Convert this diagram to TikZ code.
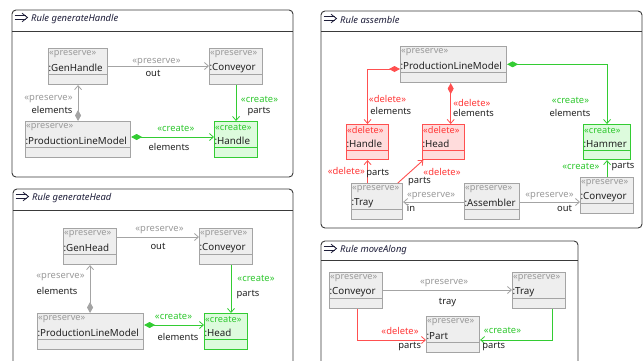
\documentclass[tikz,border=0pt]{standalone}
\usepackage{fontspec}
\setmainfont{Noto Sans}
\usetikzlibrary{arrows.meta,calc}
\definecolor{presline}{HTML}{A4A4A4}
\definecolor{presfill}{HTML}{EEEEEE}
\definecolor{presfg}{HTML}{9A9A9A}
\definecolor{delline}{HTML}{FF5050}
\definecolor{delfill}{HTML}{FFDCDC}
\definecolor{delfg}{HTML}{FF3838}
\definecolor{creline}{HTML}{33CC33}
\definecolor{crefill}{HTML}{DDFBDD}
\definecolor{crefg}{HTML}{30C830}
\definecolor{txt}{HTML}{222222}
\definecolor{titlefg}{HTML}{1E1E3A}
\definecolor{framec}{HTML}{3A3A3A}
\tikzset{
  preservebox/.style={draw=presline, fill=presfill, line width=1.1pt, inner sep=0pt},
  deletebox/.style={draw=delline, fill=delfill, line width=1.1pt, inner sep=0pt},
  createbox/.style={draw=creline, fill=crefill, line width=1.1pt, inner sep=0pt},
  preservester/.style={text=presfg, inner sep=0pt, font=\fontsize{9.2}{10}\selectfont},
  deletester/.style={text=delfg, inner sep=0pt, font=\fontsize{9.2}{10}\selectfont},
  createster/.style={text=crefg, inner sep=0pt, font=\fontsize{9.2}{10}\selectfont},
  preservediv/.style={draw=presline, line width=0.9pt},
  deletediv/.style={draw=delline, line width=0.9pt},
  creatediv/.style={draw=creline, line width=0.9pt},
  objname/.style={text=txt, inner sep=0pt, font=\fontsize{9.8}{11}\selectfont},
  lab/.style={inner sep=0pt, font=\fontsize{9.4}{10}\selectfont},
  role/.style={lab, text=txt},
  plab/.style={lab, text=presfg},
  dlab/.style={lab, text=delfg},
  clab/.style={lab, text=crefg},
  edgebase/.style={line width=0.9pt, -{Straight Barb[length=4pt,width=7pt,line width=0.8pt]}},
  pedge/.style={edgebase, draw=presline},
  dedge/.style={edgebase, draw=delline},
  cedge/.style={edgebase, draw=creline},
  comp/.style={{Diamond[length=11pt,width=6pt]}-{Straight Barb[length=4pt,width=7pt,line width=0.8pt]}},
  rulebox/.style={draw=framec, line width=0.9pt, rounded corners=4pt, fill=white},
  ruletitle/.style={inner sep=0pt, text=titlefg, font=\fontsize{9.4}{10}\selectfont\itshape},
}
\newcommand\umlobj[7]{%
  \node[#2box, minimum width=#5pt, minimum height=#6pt, anchor=north west] (#1) at (#3,#4) {};
  \node[#2ster, anchor=west] (#1-st) at ([xshift=1pt,yshift=-6.5pt]#1.north west) {«#2»};
  \node[objname, anchor=west] (#1-nm) at ([xshift=0.3pt,yshift=-20pt]#1.north west) {:#7};
  \draw[#2div] ([yshift=-26.5pt]#1.north west) -- ([yshift=-26.5pt]#1.north east);
}
\newcommand\rulepanel[7]{%
  \draw[rulebox] (#2,#3) rectangle (#4,#5);
  \draw[framec, line width=0.9pt] (#2,#6) -- (#4,#6);
  \draw[titlefg, line width=0.8pt] ($(#2,#3)+(2.5,5.5)$) -- ++(11,0);
  \draw[titlefg, line width=0.8pt] ($(#2,#3)+(2.5,9.5)$) -- ++(11,0);
  \draw[titlefg, line width=0.8pt, line join=miter] ($(#2,#3)+(10,3.2)$) -- ($(#2,#3)+(15.5,7.5)$) -- ($(#2,#3)+(10,11.8)$);
  \node[ruletitle, anchor=west] (#1) at ($(#2,#3)+(19,9)$) {#7};
}
\begin{document}
\begin{tikzpicture}[x=1pt,y=-1pt]
\useasboundingbox (0,0) rectangle (644,360);
\fill[white] (0,0) rectangle (644,360);
\clip (0,0) rectangle (644,360);

% ---------------- Panel 1: generateHandle
\rulepanel{t1}{12}{10}{293}{177}{31}{Rule generateHandle}
\umlobj{gh1}{preserve}{48}{48}{59}{36}{GenHandle}
\umlobj{cv1}{preserve}{209}{48}{53}{36}{Conveyor}
\umlobj{plm1}{preserve}{25}{121}{105}{36}{ProductionLineModel}
\umlobj{ha1}{create}{214}{121}{43}{36}{Handle}
\draw[pedge] ([yshift=-18pt]gh1.north east) -- ([yshift=-18pt]cv1.north west);
\draw[pedge, comp] (plm1.north) -- (plm1.north |- gh1.south);
\draw[cedge] (cv1.south) -- (cv1.south |- ha1.north);
\draw[cedge, comp] ([yshift=-16pt]plm1.north east) -- ([yshift=-16pt]ha1.north west);
\node[plab] (e1a) at (156.5,61.7) {«preserve»};
\node[role] (e1b) at (153,73) {out};
\node[plab] (e1c) at (48.5,99) {«preserve»};
\node[role] (e1d) at (52,110.3) {elements};
\node[clab] (e1e) at (259.5,99.7) {«create»};
\node[role] (e1f) at (259,112) {parts};
\node[clab] (e1g) at (175.8,128) {«create»};
\node[role] (e1h) at (169,146.7) {elements};

% ---------------- Panel 2: generateHead
\rulepanel{t2}{13}{189}{293}{372}{210}{Rule generateHead}
\umlobj{gh2}{preserve}{63}{228}{53}{36}{GenHead}
\umlobj{cv2}{preserve}{199}{228}{53}{36}{Conveyor}
\umlobj{plm2}{preserve}{37}{313}{106}{36}{ProductionLineModel}
\umlobj{hd2}{create}{204}{313}{43}{36}{Head}
\draw[pedge] ([yshift=-9pt]gh2.north east) -- ([yshift=-9pt]cv2.north west);
\draw[pedge, comp] ([xshift=-0.5pt]plm2.north) -- ([xshift=-0.5pt]plm2.north |- gh2.south);
\draw[cedge] ([xshift=32pt]cv2.south west) -- ([xshift=32pt]cv2.south west |- hd2.north);
\draw[cedge, comp] ([yshift=-12pt]plm2.north east) -- ([yshift=-12pt]hd2.north west);
\node[plab] (e2a) at (159.5,230) {«preserve»};
\node[role] (e2b) at (158,246.3) {out};
\node[plab] (e2c) at (60.5,277.3) {«preserve»};
\node[role] (e2d) at (57,290.7) {elements};
\node[clab] (e2e) at (256,278.3) {«create»};
\node[role] (e2f) at (248,294.3) {parts};
\node[clab] (e2g) at (173.5,316.7) {«create»};
\node[role] (e2h) at (178,336.7) {elements};

% ---------------- Panel 3: assemble
\rulepanel{t3}{321}{11}{642}{228}{31}{Rule assemble}
\umlobj{plm3}{preserve}{400}{46}{106}{36}{ProductionLineModel}
\umlobj{ha3}{delete}{346}{124}{42}{35}{Handle}
\umlobj{hd3}{delete}{422}{124}{42}{35}{Head}
\umlobj{hm3}{create}{583}{124}{47}{35}{Hammer}
\umlobj{tr3}{preserve}{351}{183}{51}{36}{Tray}
\umlobj{as3}{preserve}{464}{183}{55}{36}{Assembler}
\umlobj{cv3}{preserve}{580}{177}{53}{36}{Conveyor}
\draw[dedge, comp] ([yshift=-23pt]plm3.north west) -| (ha3.north);
\draw[dedge, comp] ([xshift=50.7pt]plm3.south west) -- ([xshift=50.7pt]plm3.south west |- hd3.north);
\draw[cedge, comp] ([yshift=-18.3pt]plm3.north east) -| (hm3.north);
\draw[dedge] (tr3.north -| ha3.south) -- (ha3.south);
\draw[dedge] ([xshift=-5.3pt]tr3.north east) -- ([xshift=1.3pt]hd3.south west);
\draw[pedge] ([yshift=-19pt]as3.north west) -- ([yshift=-19pt]as3.north west -| tr3.east);
\draw[pedge] ([yshift=-19pt]as3.north east) -- ([yshift=-19pt]as3.north east -| cv3.west);
\draw[cedge] (cv3.north) -- (cv3.north |- hm3.south);
\node[dlab] (e3a) at (387.5,99) {«delete»};
\node[role] (e3b) at (390.8,111.3) {elements};
\node[dlab] (e3c) at (471.8,103.3) {«delete»};
\node[role] (e3d) at (473.5,113.3) {elements};
\node[clab] (e3e) at (570.5,100) {«create»};
\node[role] (e3f) at (570,113.3) {elements};
\node[dlab] (e3g) at (346.3,170.7) {«delete»};
\node[role] (e3h) at (377.8,174) {parts};
\node[dlab] (e3i) at (442,172.3) {«delete»};
\node[role] (e3j) at (419.5,182) {parts};
\node[plab] (e3k) at (431.2,196) {«preserve»};
\node[role] (e3l) at (411,208.3) {in};
\node[plab] (e3m) at (549.5,196) {«preserve»};
\node[role] (e3n) at (564.5,208.3) {out};
\node[clab] (e3o) at (580.8,166.7) {«create»};
\node[role] (e3p) at (623,166.7) {parts};

% ---------------- Panel 4: moveAlong
\rulepanel{t4}{321}{241}{578}{372}{260}{Rule moveAlong}
\umlobj{cv4}{preserve}{329}{272}{53}{36}{Conveyor}
\umlobj{tr4}{preserve}{512}{272}{53}{36}{Tray}
\umlobj{pt4}{preserve}{426}{316}{53}{36}{Part}
\draw[pedge] ([yshift=-18pt]cv4.north east) -- ([yshift=-18pt]tr4.north west);
\draw[dedge] ([xshift=28pt]cv4.south west) |- ([yshift=-24pt]pt4.north west);
\draw[cedge] ([xshift=40pt]tr4.south west) |- ([yshift=-24pt]pt4.north east);
\node[plab] (e4a) at (444.2,283.3) {«preserve»};
\node[role] (e4b) at (447.5,302.7) {tray};
\node[dlab] (e4c) at (400,330.7) {«delete»};
\node[role] (e4d) at (409.7,346.7) {parts};
\node[clab] (e4e) at (502.5,330.7) {«create»};
\node[role] (e4f) at (493.8,346.7) {parts};
\end{tikzpicture}
\end{document}
